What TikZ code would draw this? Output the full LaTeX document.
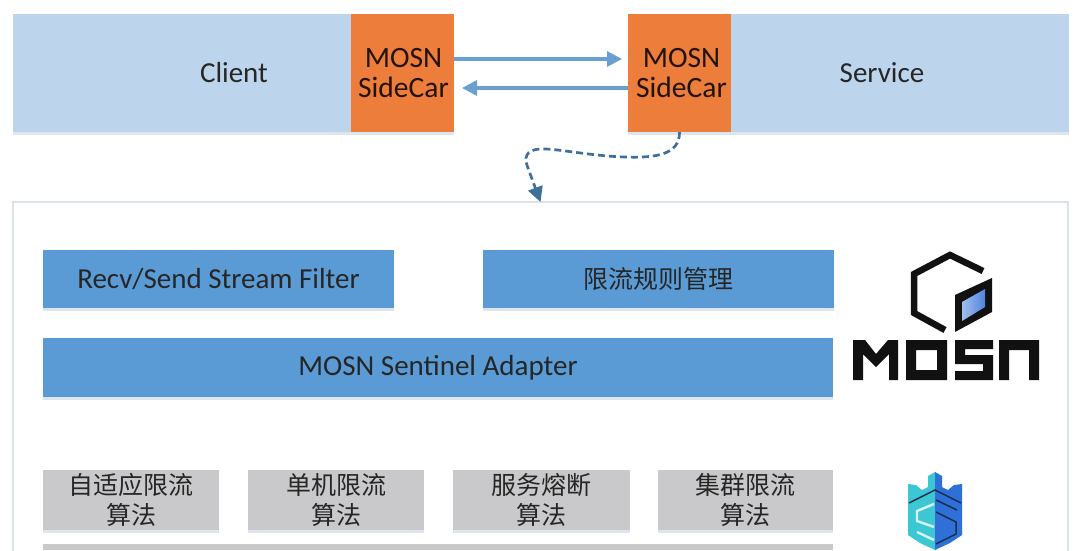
\documentclass[tikz,border=0pt]{standalone}
\usepackage{fontspec}
\setmainfont{Carlito}
\newfontfamily\cjk{Noto Sans CJK SC}
\usetikzlibrary{arrows.meta}
\definecolor{band}{HTML}{BDD5EC}
\definecolor{orangebox}{HTML}{ED7D3A}
\definecolor{bluebox}{HTML}{5B9BD5}
\definecolor{greybox}{HTML}{C9C9CB}
\definecolor{arrowblue}{HTML}{6A9FD0}
\definecolor{dashblue}{HTML}{3F709C}
\definecolor{framecol}{HTML}{DCE3E8}
\definecolor{inkdark}{HTML}{262626}
\definecolor{shadowcol}{HTML}{DDE5EE}
\definecolor{logoblack}{HTML}{111111}
\definecolor{teal}{HTML}{3CC8D2}
\definecolor{royal}{HTML}{2F6FD8}
\tikzset{
 x=1pt,y=-1pt,
 box/.style={anchor=north west,inner sep=0pt,outer sep=0pt,text=inkdark,align=center},
 shade under/.style={preaction={fill=shadowcol,transform canvas={yshift=-3pt}}},
 bandbox/.style={box,fill=band,shade under,minimum width=340pt,minimum height=118pt},
 sidecar/.style={box,fill=orangebox,shade under,font=\fontsize{29.5}{30}\selectfont,text=black!85!orangebox,minimum width=103pt,minimum height=118pt},
 bluerect/.style={box,fill=bluebox,shade under,font=\fontsize{29}{30}\selectfont},
 greyrect/.style={box,fill=greybox,shade under,font=\cjk\fontsize{25}{30}\selectfont,minimum height=60pt},
 flow/.style={arrowblue,line width=3.2pt,-{Triangle[length=15pt,width=15pt]}},
 dashflow/.style={dashblue,line width=2.7pt,dash pattern=on 7pt off 4pt,-{Triangle[length=15pt,width=15pt]}},
 plain/.style={text=inkdark,inner sep=0pt,font=\fontsize{29}{30}\selectfont},
 logoline/.style={line width=6.5pt,draw=logoblack,line join=miter,fill=none},
}
\begin{document}
\begin{tikzpicture}
\useasboundingbox (0,0) rectangle (1080,550);
\fill[white] (0,0) rectangle (1080,550);
% top bands
\node[bandbox] (bandL) at (13,14) {};
\node[bandbox] (bandR) at (729,14) {};
\node[plain] (client) at (234,73) {Client};
\node[plain] (service) at (882,73) {Service};
\node[sidecar] (carL) at (351,14) {\hspace{2pt}MOSN\\\hspace{2pt}SideCar};
\node[sidecar] (carR) at (628,14) {\hspace{4pt}MOSN\\\hspace{4pt}SideCar};
\coordinate (aS) at (carL.north east |- 0,59);
\coordinate (aE) at (carR.north west |- 0,59);
\coordinate (bS) at (carR.north west |- 0,88);
\coordinate (bE) at (carL.north east |- 0,88);
\draw[flow] (aS) -- ([xshift=-6pt]aE);
\draw[flow] (bS) -- ([xshift=8pt]bE);
% main frame
\node[box,draw=framecol,line width=1.6pt,minimum width=1055pt,minimum height=352pt] (frame) at (13,202) {};
\draw[dashflow] (carR.south) .. controls (680,155) and (655,158) .. (625,157)
  .. controls (590,156) and (555,148) .. (540,149)
  .. controls (525,150) and (524,158) .. (528,168) -- (frame.north);
% blue
\node[bluerect,minimum width=351pt,minimum height=58pt] (filter) at (43,250) {Recv/Send Stream Filter};
\node[bluerect,minimum width=351pt,minimum height=58pt,font=\cjk\fontsize{25}{30}\selectfont] (rules) at (483,250) {限流规则管理};
\node[bluerect,minimum width=790pt,minimum height=59pt] (adapter) at (43,338) {MOSN Sentinel Adapter};
% grey
\node[greyrect,minimum width=176pt] (g1) at (43,470) {自适应限流\\算法};
\node[greyrect,minimum width=176pt] (g2) at (248,470) {单机限流\\算法};
\node[greyrect,minimum width=177pt] (g3) at (453,470) {服务熔断\\算法};
\node[greyrect,minimum width=175pt] (g4) at (658,470) {集群限流\\算法};
\node[box,fill=greybox,minimum width=790pt,minimum height=6pt] (strip) at (43,544) {};
% MOSN logo: cube
\draw[logoline] (983,271) -- (950,255) -- (914,274) -- (914,313) -- (945,330);
\fill[logoblack] (955,295) -- (992,278) -- (992,312) -- (955,332) -- cycle;
\shade[left color=royal!45!white,right color=royal!85!white] (962,302) -- (985,289) -- (985,307) -- (962,321) -- cycle;
% MOSN logo: letters
\fill[logoblack] (853,340) -- (865,340) -- (876,354) -- (888,340) -- (898,340) -- (898,380) -- (889,380) -- (889,354) -- (876,367) -- (863,354) -- (863,380) -- (853,380) -- cycle;
\fill[logoblack,even odd rule] (906,340) rectangle (947,380) (916,350) rectangle (937,370);
\fill[logoblack] (955,340) -- (993,340) -- (993,349) -- (965,349) -- (965,355) -- (993,355) -- (993,380) -- (955,380) -- (955,371) -- (983,371) -- (983,364) -- (955,364) -- cycle;
\fill[logoblack] (999,340) -- (1039,340) -- (1039,380) -- (1029,380) -- (1029,350) -- (1009,350) -- (1009,380) -- (999,380) -- cycle;
% Sentinel logo
\fill[teal] (935,472) -- (928,476) -- (928,487) -- (922,490) -- (916,485) -- (908,484) -- (908,535) -- (920,543) -- (935,550) -- cycle;
\fill[royal] (935,472) -- (942,476) -- (942,487) -- (948,490) -- (954,485) -- (962,484) -- (962,535) -- (950,543) -- (935,550) -- cycle;
\draw[logoblack!70!royal,line width=1.5pt] (909,503) -- (935,490) -- (961,503);
\draw[white!80!teal,line width=2.4pt] (934,504) -- (917,511) -- (917,521) -- (934,527);
\draw[white!80!teal,line width=2.4pt] (917,532) -- (934,540);
\draw[logoblack!70!royal,line width=1.5pt] (936,500) -- (957,510);
\draw[logoblack!70!royal,line width=1.5pt] (936,512) -- (956,522) -- (956,534) -- (936,544);
\end{tikzpicture}
\end{document}
